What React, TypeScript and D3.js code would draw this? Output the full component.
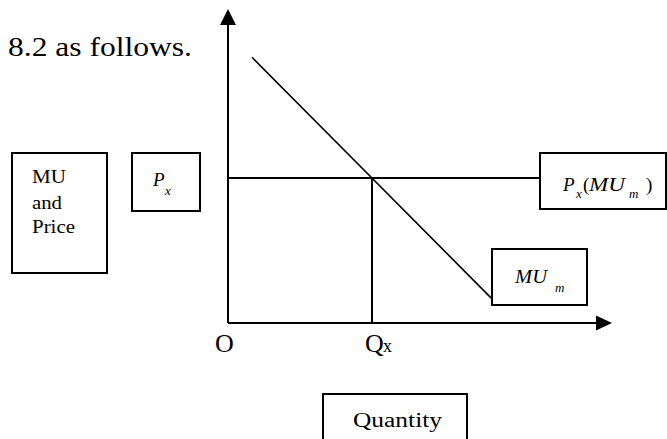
import React from "react";
import * as d3 from "d3";

// ---- data (in chart units) ----
const xDomain: [number, number] = [0, 16];
const yDomain: [number, number] = [0, 13];
const muCurveX = [1, 11];
const muCurveY = [11, 1];
const priceLevel = [6];
const priceLineEnd = [13];
const qxValue = [6];
const axisLabels = ["O", "Q"];
const sideLabelLines = ["MU", "and", "Price"];
const quantityLabel = ["Quantity"];
const captionText = ["8.2 as follows."];

const W = 667;
const H = 439;
const serif = "Liberation Serif";

export default function App() {
  const x = d3.scaleLinear().domain(xDomain).range([228, 612]);
  const y = d3.scaleLinear().domain(yDomain).range([323, 9]);

  const line = d3
    .line<[number, number]>()
    .x((d) => x(d[0]))
    .y((d) => y(d[1]));

  const muPts: [number, number][] = muCurveX.map((v, i) => [v, muCurveY[i]]);
  const priceLine: [number, number][] = [
    [0, priceLevel[0]],
    [priceLineEnd[0], priceLevel[0]],
  ];
  const qxLine: [number, number][] = [
    [qxValue[0], 0],
    [qxValue[0], priceLevel[0]],
  ];
  const yAxisLine: [number, number][] = [
    [0, 0],
    [0, yDomain[1] - 0.66],
  ];
  const xAxisLine: [number, number][] = [
    [0, 0],
    [xDomain[1] - 0.66, 0],
  ];

  const ox = x(0);
  const oy = y(0);
  const topY = y(yDomain[1]);
  const rightX = x(xDomain[1]);

  const box = (bx: number, by: number, bw: number, bh: number, key: string) => (
    <rect key={key} x={bx} y={by} width={bw} height={bh} fill="white" stroke="#000" strokeWidth={2} />
  );

  const T = (props: any) => (
    <text {...props} style={{ fontFamily: serif, fontStyle: props.italic ? "italic" : "normal" }} fill="#000" />
  );

  return (
    <div style={{ position: "fixed", left: 0, top: 0, width: W, height: H, overflow: "hidden" }}>
      <svg width={W} height={H} viewBox={`0 0 ${W} ${H}`} style={{ display: "block", background: "#fff" }}>
        <rect x={0} y={0} width={W} height={H} fill="#fff" />
        {/* caption */}
        <T x={8} y={56} fontSize={27} textLength={184} lengthAdjust="spacingAndGlyphs">
          {captionText[0]}
        </T>

        {/* axes */}
        <path d={line(yAxisLine) || ""} stroke="#000" strokeWidth={2} fill="none" />
        <path d={`M${ox},${topY} L${ox - 8},${topY + 16} L${ox + 8},${topY + 16} Z`} fill="#000" />
        <path d={line(xAxisLine) || ""} stroke="#000" strokeWidth={2} fill="none" />
        <path d={`M${rightX},${oy} L${rightX - 16},${oy - 7.5} L${rightX - 16},${oy + 7.5} Z`} fill="#000" />

        {/* curves */}
        <path d={line(muPts) || ""} stroke="#000" strokeWidth={1.6} fill="none" />
        <path d={line(priceLine) || ""} stroke="#000" strokeWidth={2} fill="none" />
        <path d={line(qxLine) || ""} stroke="#000" strokeWidth={2} fill="none" />

        {/* boxes */}
        {box(12, 153, 95, 120, "b1")}
        {box(132, 153, 68, 58, "b2")}
        {box(540, 153, 126, 56, "b3")}
        {box(492, 249, 95, 56, "b4")}
        {box(323, 394, 144, 70, "b5")}

        {/* MU and Price */}
        <T x={32} y={183} fontSize={18} textLength={34} lengthAdjust="spacingAndGlyphs">
          {sideLabelLines[0]}
        </T>
        <T x={32} y={209} fontSize={18} textLength={30} lengthAdjust="spacingAndGlyphs">
          {sideLabelLines[1]}
        </T>
        <T x={32} y={233} fontSize={18} textLength={43} lengthAdjust="spacingAndGlyphs">
          {sideLabelLines[2]}
        </T>

        {/* P_x box */}
        <T italic x={153} y={186} fontSize={19}>P</T>
        <T italic x={165} y={195} fontSize={13}>x</T>

        {/* P_x(MU_m) box */}
        <T italic x={563} y={191} fontSize={19}>P</T>
        <T italic x={576} y={198} fontSize={13}>x</T>
        <T x={583} y={191} fontSize={19}>(</T>
        <T italic x={589} y={191} fontSize={19} textLength={36} lengthAdjust="spacingAndGlyphs">MU</T>
        <T italic x={629} y={198} fontSize={13}>m</T>
        <T x={646} y={191} fontSize={19}>)</T>

        {/* MU_m box */}
        <T italic x={515} y={283} fontSize={19} textLength={32} lengthAdjust="spacingAndGlyphs">MU</T>
        <T italic x={555} y={292} fontSize={13}>m</T>

        {/* axis labels */}
        <T x={ox - 13} y={352} fontSize={26}>{axisLabels[0]}</T>
        <T x={x(qxValue[0]) - 7} y={352} fontSize={26}>{axisLabels[1]}</T>
        <T x={x(qxValue[0]) + 11} y={352} fontSize={18}>x</T>

        {/* Quantity */}
        <T x={353} y={427} fontSize={20} textLength={89} lengthAdjust="spacingAndGlyphs">
          {quantityLabel[0]}
        </T>
      </svg>
    </div>
  );
}
